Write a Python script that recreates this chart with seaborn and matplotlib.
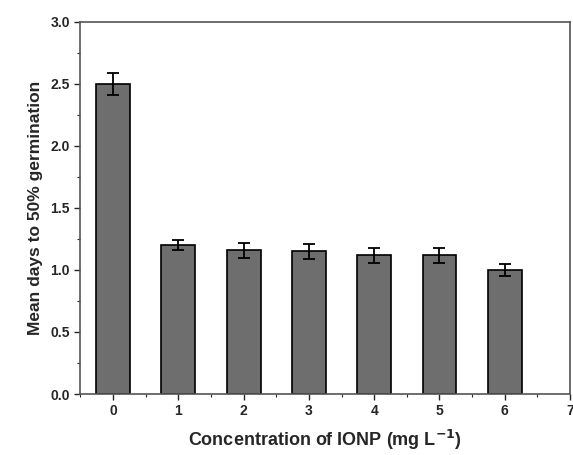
import matplotlib
matplotlib.use("Agg")
import matplotlib.pyplot as plt
import seaborn as sns
import pandas as pd
from matplotlib.ticker import MultipleLocator, AutoMinorLocator

sns.set_style("ticks")
plt.rcParams['font.family'] = ['Liberation Sans', 'DejaVu Sans']
plt.rcParams['font.weight'] = 'bold'

# data
concentration = [0, 1, 2, 3, 4, 5, 6]
mean_days = [2.50, 1.20, 1.16, 1.15, 1.12, 1.12, 1.00]
std_err = [0.09, 0.04, 0.06, 0.06, 0.06, 0.06, 0.05]

df = pd.DataFrame({"conc": concentration, "days": mean_days, "err": std_err})

fig = plt.figure(figsize=(5.73, 4.55), dpi=100)
ax = fig.add_axes([0.14, 0.134, 0.855, 0.818])

sns.barplot(data=df, x="conc", y="days", order=concentration, color="#6e6e6e",
            saturation=1, width=0.52, edgecolor="black", linewidth=1.2,
            errorbar=None, ax=ax)
ax.errorbar(range(len(concentration)), df["days"], yerr=df["err"], fmt="none",
            ecolor="black", elinewidth=1.3, capsize=4, capthick=1.3)

ax.set_xlim(-0.5, 7.0)
ax.set_ylim(0, 3.0)
ax.set_xticks(range(8))
ax.set_xticklabels([str(i) for i in range(8)])
ax.xaxis.set_minor_locator(MultipleLocator(0.5))
ax.yaxis.set_major_locator(MultipleLocator(0.5))
ax.yaxis.set_minor_locator(AutoMinorLocator(2))
ax.tick_params(which="major", direction="out", length=4, width=1, labelsize=10)
ax.tick_params(which="minor", direction="out", length=2, width=0.8)
for lbl in ax.get_xticklabels() + ax.get_yticklabels():
    lbl.set_fontweight("bold")
for s in ax.spines.values():
    s.set_color("#555555")
    s.set_linewidth(1.2)

ax.set_xlabel("Concentration of IONP (mg L$^{\\mathbf{-1}}$)", fontsize=13, fontweight="bold", labelpad=7)
ax.set_ylabel("Mean days to 50% germination", fontsize=12.5, fontweight="bold", labelpad=5)

fig.savefig("out.png", dpi=100)
